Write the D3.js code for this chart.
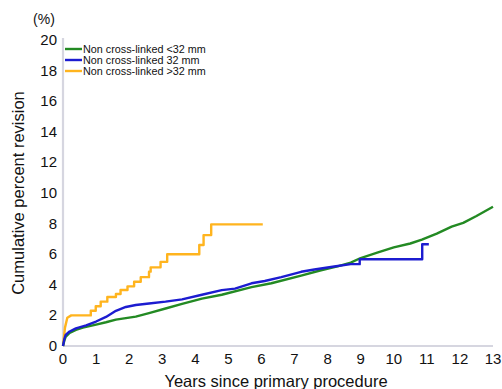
<!DOCTYPE html>
<html>
<head>
<meta charset="utf-8">
<script src="https://cdn.jsdelivr.net/npm/d3@7"></script>
<style>
  body { margin: 0; background: #fff; }
  text { font-family: "Liberation Sans", Arial, sans-serif; fill: #111; }
</style>
</head>
<body>
<script>
// series: [years, cumulative percent]
var seriesNames = ["Non cross-linked <32 mm", "Non cross-linked 32 mm", "Non cross-linked >32 mm"];
var seriesColors = ["#238a23", "#1c1cd0", "#ffb41e"];

var lessThan32 = [[0,0],[0.04,0.35],[0.08,0.6],[0.2,0.85],[0.39,1.05],[0.6,1.2],[1.0,1.4],[1.3,1.55],[1.6,1.72],[2.2,1.92],[2.6,2.15],[3.1,2.45],[3.6,2.75],[4.2,3.1],[4.8,3.35],[5.7,3.85],[6.3,4.1],[7.2,4.6],[7.8,4.95],[8.3,5.2],[8.7,5.45],[9.0,5.75],[9.5,6.1],[10.0,6.45],[10.5,6.7],[10.85,6.95],[11.3,7.35],[11.75,7.8],[12.1,8.05],[12.5,8.5],[13.0,9.1]];

var equal32 = [[0,0],[0.04,0.45],[0.08,0.72],[0.2,0.95],[0.39,1.15],[0.7,1.35],[1.0,1.6],[1.3,1.9],[1.6,2.3],[1.9,2.55],[2.2,2.68],[2.6,2.78],[3.1,2.9],[3.6,3.05],[4.2,3.35],[4.8,3.65],[5.2,3.75],[5.7,4.1],[6.1,4.25],[6.6,4.5],[7.2,4.85],[7.6,5.0],[8.2,5.2],[8.7,5.35],[8.97,5.35],[8.97,5.67],[10.86,5.67],[10.86,6.65],[11.06,6.65]];

var greaterThan32 = [[0,0],[0.06,1.2],[0.13,1.85],[0.25,2.0],[0.84,2.0],[0.84,2.3],[0.99,2.3],[0.99,2.6],[1.14,2.6],[1.14,2.9],[1.34,2.9],[1.34,3.2],[1.6,3.2],[1.6,3.4],[1.74,3.4],[1.74,3.66],[1.95,3.66],[1.95,3.9],[2.15,3.9],[2.15,4.2],[2.35,4.2],[2.35,4.5],[2.6,4.5],[2.6,4.86],[2.65,4.86],[2.65,5.14],[2.95,5.14],[2.95,5.5],[3.15,5.5],[3.15,6.0],[4.12,6.0],[4.12,6.6],[4.25,6.6],[4.25,7.25],[4.48,7.25],[4.48,7.95],[6.04,7.95]];

var allSeries = [lessThan32, equal32, greaterThan32];

var xTicks = d3.range(0, 14);
var yTicks = d3.range(0, 21, 2);

var width = 502, height = 389;
var svg = d3.select("body").append("svg")
    .attr("width", width)
    .attr("height", height);

var x = d3.scaleLinear().domain([0, 13]).range([63, 493]);
var y = d3.scaleLinear().domain([0, 20]).range([346, 40]);

// axis lines
svg.append("line")
    .attr("x1", x(0)).attr("x2", x(0))
    .attr("y1", y(20) - 2).attr("y2", y(0))
    .attr("stroke", "#d6d6e0").attr("stroke-width", 2.2);
svg.append("line")
    .attr("x1", x(0)).attr("x2", x(13))
    .attr("y1", y(0)).attr("y2", y(0))
    .attr("stroke", "#d6d6e0").attr("stroke-width", 2.2);

// tick labels
svg.selectAll(".xt").data(xTicks).enter().append("text")
    .attr("class", "xt")
    .attr("x", function (d) { return x(d); })
    .attr("y", 364)
    .attr("text-anchor", "middle")
    .attr("font-size", "15px")
    .text(function (d) { return d; });

svg.selectAll(".yt").data(yTicks).enter().append("text")
    .attr("class", "yt")
    .attr("x", 57)
    .attr("y", function (d) { return y(d) + 5; })
    .attr("text-anchor", "end")
    .attr("font-size", "15px")
    .text(function (d) { return d; });

svg.append("text")
    .attr("x", 44).attr("y", 24)
    .attr("text-anchor", "middle")
    .attr("font-size", "14px")
    .text("(%)");

svg.append("text")
    .attr("transform", "translate(24," + y(10) + ") rotate(-90)")
    .attr("text-anchor", "middle")
    .attr("font-size", "16.5px")
    .text("Cumulative percent revision");

svg.append("text")
    .attr("x", x(6.5) - 2).attr("y", 387)
    .attr("text-anchor", "middle")
    .attr("font-size", "16.5px")
    .text("Years since primary procedure");

// curves
var line = d3.line()
    .x(function (d) { return x(d[0]); })
    .y(function (d) { return y(d[1]); });

// draw orange first, then green, then blue on top
[2, 0, 1].forEach(function (i) {
  svg.append("path")
      .datum(allSeries[i])
      .attr("d", line)
      .attr("fill", "none")
      .attr("stroke", seriesColors[i])
      .attr("stroke-width", 2.4)
      .attr("stroke-linejoin", "round");
});

// legend
var legend = svg.selectAll(".lg").data(seriesNames).enter().append("g")
    .attr("class", "lg")
    .attr("transform", function (d, i) { return "translate(65," + (49 + i * 11) + ")"; });
legend.append("line")
    .attr("x1", 0).attr("x2", 17)
    .attr("stroke", function (d, i) { return seriesColors[i]; })
    .attr("stroke-width", 2.4);
legend.append("text")
    .attr("x", 18).attr("y", 3.8)
    .attr("font-size", "10.8px")
    .text(function (d) { return d; });
</script>
</body>
</html>
